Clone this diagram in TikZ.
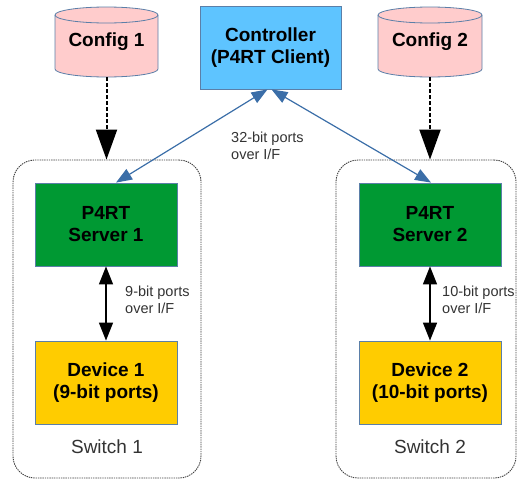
\documentclass[tikz,border=0pt]{standalone}
\usepackage{fontspec}
\setmainfont{Liberation Sans}
\usetikzlibrary{arrows.meta}
\definecolor{cfgfill}{HTML}{FFCCCC}
\definecolor{ctrlfill}{HTML}{5EC4FF}
\definecolor{srvfill}{HTML}{009933}
\definecolor{devfill}{HTML}{FFCC00}
\definecolor{edge}{HTML}{5B7FA8}
\definecolor{linkblue}{HTML}{3B6EA8}
\definecolor{lbl}{HTML}{333333}
\begin{document}
\begin{tikzpicture}[x=1pt,y=-1pt,
  boxtext/.style={font=\fontsize{19}{22}\selectfont\bfseries, align=center, text=black},
  blockbox/.style={boxtext, draw=edge, line width=0.8pt, minimum width=142pt, minimum height=83pt, inner sep=0pt},
  cfgnode/.style={boxtext, minimum width=103pt, minimum height=70pt, inner sep=0pt},
  cylshape/.style={fill=cfgfill, draw=edge, line width=0.8pt},
  switchbox/.style={draw=black!75, line width=0.9pt, dash pattern=on 1.4pt off 0.9pt, rounded corners=22pt},
  swlabel/.style={font=\fontsize{19}{22}\selectfont, text=lbl},
  portlabel/.style={font=\fontsize{14.5}{17}\selectfont, text=lbl, align=left, anchor=west, inner sep=0pt},
  cfgarrow/.style={line width=2pt, dash pattern=on 4pt off 2pt, -{Triangle[width=21pt,length=30pt]}},
  vertarrow/.style={line width=1.5pt, {Triangle[width=14pt,length=18pt]}-{Triangle[width=14pt,length=18pt]}},
  bluearrow/.style={draw=linkblue, line width=1.2pt, {Triangle[width=12pt,length=16pt]}-{Triangle[width=12pt,length=16pt]}}
]
\useasboundingbox (0,0) rectangle (518,479);

% switch containers
\node[switchbox, minimum width=188pt, minimum height=318pt] (sw1) at (107,319) {};
\node[switchbox, minimum width=180pt, minimum height=318pt] (sw2) at (426,319) {};

% cylinders
\path[cylshape] (55,15) -- (55,69) arc[start angle=180,end angle=0,x radius=51.5,y radius=8] -- (158,15) arc[start angle=0,end angle=-180,x radius=51.5,y radius=8] -- cycle;
\draw[edge, line width=0.8pt] (55,15) arc[start angle=180,end angle=0,x radius=51.5,y radius=8];
\path[cylshape] (378,15) -- (378,69) arc[start angle=180,end angle=0,x radius=52,y radius=8] -- (482,15) arc[start angle=0,end angle=-180,x radius=52,y radius=8] -- cycle;
\draw[edge, line width=0.8pt] (378,15) arc[start angle=180,end angle=0,x radius=52,y radius=8];
\node[cfgnode] (cfg1) at (106.5,42) {Config 1};
\node[cfgnode] (cfg2) at (430,42) {Config 2};

% controller
\node[blockbox, fill=ctrlfill, minimum width=141pt, minimum height=83pt] (ctrl) at (270.5,47.5) {Controller\\(P4RT Client)};

% servers and devices
\node[blockbox, fill=srvfill] (srv1) at (106,224.5) {P4RT\\Server 1};
\node[blockbox, fill=devfill] (dev1) at (106,382.5) {Device 1\\(9-bit ports)};
\node[blockbox, fill=srvfill] (srv2) at (430,224.5) {P4RT\\Server 2};
\node[blockbox, fill=devfill] (dev2) at (430,382.5) {Device 2\\(10-bit ports)};

\node[swlabel] (sl1) at (107,447) {Switch 1};
\node[swlabel] (sl2) at (430,447) {Switch 2};

% connectors
\draw[cfgarrow] (cfg1.south) -- (cfg1.south |- sw1.north);
\draw[cfgarrow] (cfg2.south) -- (cfg2.south |- sw2.north);

\draw[bluearrow] ([xshift=-3pt]ctrl.south) -- ([xshift=10pt]srv1.north);
\draw[bluearrow] ([xshift=1pt]ctrl.south) -- ([xshift=1pt]srv2.north);

\draw[vertarrow] (srv1.south) -- (dev1.north);
\draw[vertarrow] (srv2.south) -- (dev2.north);

\node[portlabel] (l32) at (231,146) {32-bit ports\\over I/F};
\node[portlabel] (l9) at (125,299.5) {9-bit ports\\over I/F};
\node[portlabel] (l10) at (442,299.5) {10-bit ports\\over I/F};
\end{tikzpicture}
\end{document}
